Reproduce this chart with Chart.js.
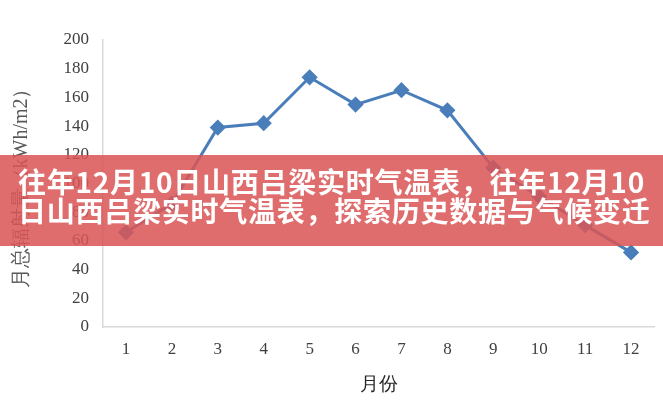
<!DOCTYPE html>
<html lang="zh">
<head>
<meta charset="UTF-8" />
<title>月总辐射量</title>
<script src="https://cdn.jsdelivr.net/npm/chart.js"></script>
<style>
  body, html {
    margin: 0; padding: 0;
    background: #fff;
  }
  #wrap {
    position: relative;
    width: 663px;
    height: 400px;
  }
  #banner {
    position: absolute;
    left: 0; top: 155px;
    width: 663px; height: 91px;
    box-sizing: border-box;
    padding: 12px 0 0 18px;
    background: rgba(218, 85, 85, 0.86);
    color: #fff;
    font-family: "Noto Sans CJK SC", sans-serif;
    font-weight: bold;
    font-size: 28px;
    line-height: 29px;
    white-space: nowrap;
    letter-spacing: 0.75px;
  }
</style>
</head>
<body>
<div id="wrap">
  <canvas id="chart" width="663" height="400"></canvas>
  <div id="banner">往年12月10日山西吕梁实时气温表，往年12月10<br>日山西吕梁实时气温表，探索历史数据与气候变迁</div>
</div>

<script>
  const months = ['1', '2', '3', '4', '5', '6', '7', '8', '9', '10', '11', '12'];
  const radiation = [66, 86, 139, 142, 174, 155, 165, 151, 111, 91, 71, 52];
  const yTicks = [0, 20, 40, 60, 80, 100, 120, 140, 160, 180, 200];

  const serif = '"Liberation Serif", "Times New Roman", serif';

  new Chart(document.getElementById('chart'), {
    type: 'line',
    data: {
      labels: months,
      datasets: [{
        data: radiation,
        borderColor: '#4a7ebb',
        backgroundColor: '#4a7ebb',
        borderWidth: 3,
        pointStyle: 'rectRot',
        pointRadius: 6,
        tension: 0
      }]
    },
    options: {
      responsive: false,
      animation: false,
      layout: { padding: { top: 40, right: 8, left: 6, bottom: 0 } },
      plugins: { legend: { display: false }, tooltip: { enabled: false } },
      scales: {
        x: {
          offset: true,
          grid: { drawOnChartArea: false, drawTicks: false, offset: true },
          border: { color: '#d9d9d9', width: 1.5 },
          ticks: { color: '#404040', font: { family: serif, size: 17 }, padding: 12, maxRotation: 0 },
          title: {
            display: true, text: '月份', color: '#262626',
            font: { family: serif, size: 19 }, padding: { top: 8 }
          },
          afterFit: s => { s.height = 73; }
        },
        y: {
          min: 0, max: 200,
          afterBuildTicks: s => { s.ticks = yTicks.map(v => ({ value: v })); },
          grid: { drawOnChartArea: false, drawTicks: false },
          border: { color: '#d9d9d9', width: 1.5 },
          ticks: { color: '#404040', font: { family: serif, size: 17 }, padding: 14 },
          title: {
            display: true, text: '月总辐射量（kWh/m2）', color: '#595959',
            font: { family: serif, size: 20 }, padding: { bottom: 10 }
          },
          afterFit: s => { s.width = 97; }
        }
      }
    }
  });
</script>
</body>
</html>
